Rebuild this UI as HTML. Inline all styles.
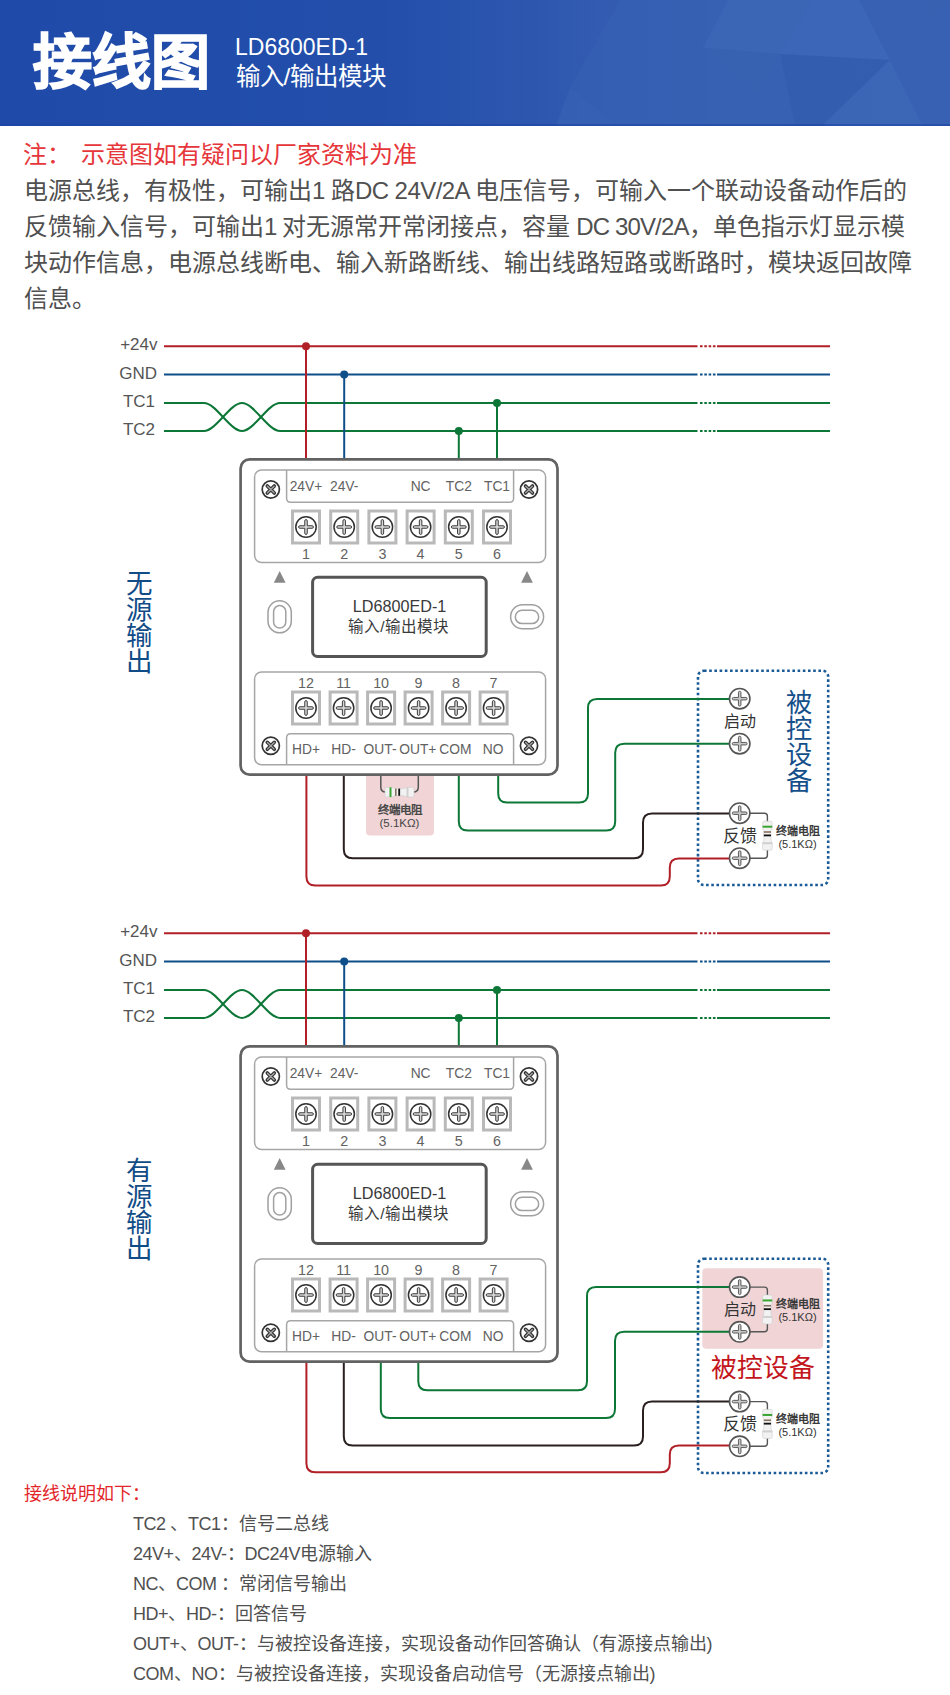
<!DOCTYPE html>
<html lang="zh-CN">
<head>
<meta charset="utf-8">
<style>
html,body{margin:0;padding:0;background:#fff;}
body{width:950px;height:1695px;position:relative;overflow:hidden;font-family:"Liberation Sans",sans-serif;color:#333;}
.abs{position:absolute;white-space:nowrap;}
#hdr{position:absolute;left:0;top:0;width:950px;height:126px;}
.t1{left:32.5px;top:23px;font-size:59px;font-weight:bold;color:#fff;line-height:80px;-webkit-text-stroke:1.6px #fff;}
.t2{left:235px;top:32px;font-size:23px;color:#fff;line-height:30px;}
.t3{left:235.5px;top:62px;font-size:24.5px;color:#fff;line-height:30px;}
.note{left:23px;top:139px;font-size:24px;color:#e6363a;line-height:32px;}
.p{left:24px;font-size:24px;color:#505050;line-height:32px;}
.l1{letter-spacing:-0.55px}.l2{letter-spacing:-0.85px}
.ln{letter-spacing:-0.5px}
.n{font-size:18px;color:#505050;line-height:24px;}
svg{position:absolute;left:0;top:0;}
</style>
</head>
<body>
<svg id="hdr" width="950" height="126" viewBox="0 0 950 126">
  <defs>
    <linearGradient id="hg" x1="0" y1="0" x2="1" y2="0">
      <stop offset="0" stop-color="#1f4aa9"/>
      <stop offset="0.4" stop-color="#234fab"/>
      <stop offset="0.6" stop-color="#3059b0"/>
      <stop offset="0.75" stop-color="#3a64b5"/>
      <stop offset="1" stop-color="#3c67b8"/>
    </linearGradient>
  </defs>
  <rect x="0" y="0" width="950" height="126" fill="url(#hg)"/>
  <polygon points="570,87 619,126 556,126" fill="#3862b5" opacity="0.7"/>
  <polygon points="570,87 620,0 728,0 703,47.5 760,97 795,126 619,126" fill="#3661b3" opacity="0.6"/>
  <polygon points="703,47.5 728,0 813,0 780,54 760,97" fill="#3c66b7" opacity="0.7"/>
  <polygon points="703,47.5 760,97 795,126 780,54" fill="#335dae" opacity="0.5"/>
  <polygon points="780,54 813,0 859,0 890,60" fill="#3d67b8" opacity="0.9"/>
  <polygon points="859,0 950,0 950,5 890,60" fill="#3761b1" opacity="0.9"/>
  <polygon points="780,54 890,60 822,126 795,126" fill="#335dae" opacity="0.9"/>
  <polygon points="890,60 923,126 822,126" fill="#3c66b6" opacity="0.9"/>
  <polygon points="890,60 950,5 950,126 923,126" fill="#3761b2" opacity="0.9"/>
  <rect x="0" y="124" width="950" height="2" fill="#1d45a5" opacity="0.6"/>
</svg>
<div class="abs t1">接线图</div>
<div class="abs t2">LD6800ED-1</div>
<div class="abs t3">输入/输出模块</div>

<div class="abs note">注：<span style="margin-left:10px">示意图如有疑问以厂家资料为准</span></div>
<div class="abs p" style="top:175px">电源总线，有极性，可输出<span class="l1">1 </span>路<span class="l1">DC 24V/2A </span>电压信号，可输入一个联动设备动作后的</div>
<div class="abs p" style="top:211px">反馈输入信号，可输出<span class="l2">1 </span>对无源常开常闭接点，容量<span class="l2"> DC 30V/2A</span>，单色指示灯显示模</div>
<div class="abs p" style="top:247px">块动作信息，电源总线断电、输入新路断线、输出线路短路或断路时，模块返回故障</div>
<div class="abs p" style="top:283px">信息。</div>

<div class="abs n" style="left:24px;top:1482px;color:#e3262a">接线说明如下：</div>
<div class="abs n" style="left:133px;top:1512px"><span class="ln">TC2 </span>、<span class="ln">TC1</span>：信号二总线</div>
<div class="abs n" style="left:133px;top:1542px"><span class="ln">24V+</span>、<span class="ln">24V-</span>：<span class="ln">DC24V</span>电源输入</div>
<div class="abs n" style="left:133px;top:1572px"><span class="ln">NC</span>、<span class="ln">COM </span>：常闭信号输出</div>
<div class="abs n" style="left:133px;top:1602px"><span class="ln">HD+</span>、<span class="ln">HD-</span>：回答信号</div>
<div class="abs n" style="left:133px;top:1632px"><span class="ln">OUT+</span>、<span class="ln">OUT-</span>：与被控设备连接，实现设备动作回答确认（有源接点输出)</div>
<div class="abs n" style="left:133px;top:1662px"><span class="ln">COM</span>、<span class="ln">NO</span>：与被控设备连接，实现设备启动信号（无源接点输出)</div>

<svg width="950" height="1695" viewBox="0 0 950 1695" style="position:absolute;left:0;top:0" font-family="Liberation Sans, sans-serif">
<defs>
 <g id="plus">
  <path d="M-1.25,-6.15 A1.25,1.25 0 0 1 1.25,-6.15 V-1.25 H6.15 A1.25,1.25 0 0 1 6.15,1.25 H1.25 V6.15 A1.25,1.25 0 0 1 -1.25,6.15 V1.25 H-6.15 A1.25,1.25 0 0 1 -6.15,-1.25 H-1.25 Z" fill="#d6d6d6" stroke="#333" stroke-width="0.95"/>
 </g>
 <g id="term">
  <rect x="-13.5" y="-16" width="27" height="32" fill="#fff" stroke="#b9b9b9" stroke-width="3"/>
  <circle r="10.2" fill="#fff" stroke="#333" stroke-width="1.5"/>
  <use href="#plus"/>
 </g>
 <g id="dplus">
  <path d="M-1.25,-6.15 A1.25,1.25 0 0 1 1.25,-6.15 V-1.25 H6.15 A1.25,1.25 0 0 1 6.15,1.25 H1.25 V6.15 A1.25,1.25 0 0 1 -1.25,6.15 V1.25 H-6.15 A1.25,1.25 0 0 1 -6.15,-1.25 H-1.25 Z" fill="#c8c8c8" stroke="#555" stroke-width="0.95"/>
 </g>
 <g id="dterm">
  <circle r="10.2" fill="#fff" stroke="#555" stroke-width="1.6"/>
  <use href="#dplus"/>
 </g>
 <g id="screw">
  <circle r="8.6" fill="#fff" stroke="#333" stroke-width="1.7"/>
  <path d="M-3.5,-3.5L3.5,3.5M3.5,-3.5L-3.5,3.5" stroke="#333" stroke-width="3.6" stroke-linecap="round" fill="none"/>
  <path d="M-3.3,-3.3L3.3,3.3M3.3,-3.3L-3.3,3.3" stroke="#a8a8a8" stroke-width="1.3" stroke-linecap="round" fill="none"/>
 </g>
 <g id="resH">
  <path d="M-13,-4.8 h5 q2,0 3,1.2 h10 q1,-1.2 3,-1.2 h5 q1.5,0 1.5,1.5 v6.6 q0,1.5 -1.5,1.5 h-5 q-2,0 -3,-1.2 h-10 q-1,1.2 -3,1.2 h-5 q-1.5,0 -1.5,-1.5 v-6.6 q0,-1.5 1.5,-1.5z" fill="#f2f2f2" stroke="#cfcfcf" stroke-width="0.6"/>
  <rect x="-10" y="-4.8" width="2" height="9.6" fill="#3aa332"/>
  <rect x="-4.5" y="-3.6" width="1.6" height="7.2" fill="#8a7262"/>
  <rect x="-1.2" y="-3.6" width="1.8" height="7.2" fill="#111"/>
  <rect x="7" y="-4.8" width="2" height="9.6" fill="#d0d0d0"/>
 </g>
 <g id="resV">
  <path d="M-4.8,-13 v5 q0,2 1.2,3 v10 q-1.2,1 -1.2,3 v5 q0,1.5 1.5,1.5 h6.6 q1.5,0 1.5,-1.5 v-5 q0,-2 -1.2,-3 v-10 q1.2,-1 1.2,-3 v-5 q0,-1.5 -1.5,-1.5 h-6.6 q-1.5,0 -1.5,1.5z" fill="#f2f2f2" stroke="#cfcfcf" stroke-width="0.6"/>
  <rect x="-4.8" y="-10" width="9.6" height="2" fill="#3aa332"/>
  <rect x="-3.6" y="-4.5" width="7.2" height="1.6" fill="#8a7262"/>
  <rect x="-3.6" y="-1.2" width="7.2" height="1.8" fill="#111"/>
  <rect x="-4.8" y="6.5" width="9.6" height="2" fill="#d0d0d0"/>
 </g>
</defs>
<text x="157.5" y="350.3" font-size="17" fill="#555" text-anchor="end" font-weight="normal" >+24v</text>
<text x="157" y="378.5" font-size="17" fill="#555" text-anchor="end" font-weight="normal" >GND</text>
<text x="155" y="407" font-size="17" fill="#555" text-anchor="end" font-weight="normal" >TC1</text>
<text x="155" y="435" font-size="17" fill="#555" text-anchor="end" font-weight="normal" >TC2</text>
<path d="M164,346.3H697.5M717,346.3H830" stroke="#b11f27" stroke-width="2" fill="none"/>
<path d="M700,346.3H715.5" stroke="#b11f27" stroke-width="2" stroke-dasharray="2.6 1.7" fill="none"/>
<path d="M164,374.5H697.5M717,374.5H830" stroke="#0e4f89" stroke-width="2" fill="none"/>
<path d="M700,374.5H715.5" stroke="#0e4f89" stroke-width="2" stroke-dasharray="2.6 1.7" fill="none"/>
<path d="M164,403H204C216,403 230,431 242,431C254,431 268,403 280,403H697.5M717,403H830" stroke="#0d7737" stroke-width="2" fill="none"/>
<path d="M164,431H204C216,431 230,403 242,403C254,403 268,431 280,431H697.5M717,431H830" stroke="#0d7737" stroke-width="2" fill="none"/>
<path d="M700,403H715.5" stroke="#0d7737" stroke-width="2" stroke-dasharray="2.6 1.7" fill="none"/>
<path d="M700,431H715.5" stroke="#0d7737" stroke-width="2" stroke-dasharray="2.6 1.7" fill="none"/>
<path d="M306,346.3V462" stroke="#b11f27" stroke-width="2"/>
<circle cx="306" cy="346.3" r="4" fill="#b11f27"/>
<path d="M344.2,374.5V462" stroke="#0e4f89" stroke-width="2"/>
<circle cx="344.2" cy="374.5" r="4" fill="#0e4f89"/>
<path d="M458.8,431V462" stroke="#0d7737" stroke-width="2"/>
<circle cx="458.8" cy="431" r="4" fill="#0d7737"/>
<path d="M497,403V462" stroke="#0d7737" stroke-width="2"/>
<circle cx="497" cy="403" r="4" fill="#0d7737"/>
<rect x="698" y="670.7" width="130.2" height="214.3" rx="6" fill="none" stroke="#1a5a96" stroke-width="2.6" stroke-dasharray="2.6 2.6"/>
<text x="798.5" y="712" font-size="26.3" fill="#15508a" text-anchor="middle" font-weight="normal" >被</text>
<text x="798.5" y="738" font-size="26.3" fill="#15508a" text-anchor="middle" font-weight="normal" >控</text>
<text x="798.5" y="764" font-size="26.3" fill="#15508a" text-anchor="middle" font-weight="normal" >设</text>
<text x="798.5" y="790" font-size="26.3" fill="#15508a" text-anchor="middle" font-weight="normal" >备</text>
<path d="M306.4,770 L306.4,876.6 Q306.4,885.6 315.4,885.6 L660.8,885.6 Q669.8,885.6 669.8,876.6 L669.8,867.5 Q669.8,858.5 678.8,858.5 L729,858.5" stroke="#b11f27" stroke-width="2" fill="none"/>
<path d="M343.8,770 L343.8,849.3 Q343.8,858.3 352.8,858.3 L634.0,858.3 Q643,858.3 643.0,849.3 L643.0,822.5 Q643,813.5 652.0,813.5 L729,813.5" stroke="#2b2020" stroke-width="2" fill="none"/>
<path d="M458.8,770 L458.8,821.5 Q458.8,830.5 467.8,830.5 L606.2,830.5 Q615.2,830.5 615.2,821.5 L615.2,752.7 Q615.2,743.7 624.2,743.7 L729,743.7" stroke="#0d7737" stroke-width="2" fill="none"/>
<path d="M498.2,770 L498.2,793.5 Q498.2,802.5 507.2,802.5 L579.0,802.5 Q588,802.5 588.0,793.5 L588.0,708.0 Q588,699 597.0,699.0 L729,699" stroke="#0d7737" stroke-width="2" fill="none"/>
<rect x="366" y="760" width="68" height="75.5" rx="4" fill="#f0d4d6"/>
<path d="M380.8,770 L380.8,787.0 Q380.8,792 385.8,792.0 L413.3,792.0 Q418.3,792 418.3,787.0 L418.3,770" stroke="#555" stroke-width="1.5" fill="none"/>
<use href="#resH" x="399.5" y="792.2"/>
<text x="399.5" y="814.3" font-size="11.5" fill="#484848" text-anchor="middle" font-weight="bold" >终端电阻</text>
<text x="399.5" y="826.8" font-size="11.5" fill="#444" text-anchor="middle" font-weight="normal" >(5.1KΩ)</text>
<rect x="240.6" y="459.4" width="316.9" height="315.3" rx="9" fill="#fff" stroke="#626262" stroke-width="2.7"/>
<rect x="254.6" y="470" width="291" height="92.5" rx="7" fill="none" stroke="#a6a6a6" stroke-width="1.5"/>
<path d="M286.6,470V498.3Q286.6,502.3 290.6,502.3H509.6Q513.6,502.3 513.6,498.3V470" fill="none" stroke="#a6a6a6" stroke-width="1.5"/>
<rect x="254.6" y="672" width="291" height="92.8" rx="7" fill="none" stroke="#a6a6a6" stroke-width="1.5"/>
<path d="M286.6,764.8V737.8Q286.6,733.8 290.6,733.8H509.6Q513.6,733.8 513.6,737.8V764.8" fill="none" stroke="#a6a6a6" stroke-width="1.5"/>
<use href="#screw" x="270.8" y="489.5"/>
<use href="#screw" x="270.8" y="745.8"/>
<use href="#screw" x="529" y="489.5"/>
<use href="#screw" x="529" y="745.8"/>
<use href="#term" x="306" y="527"/>
<use href="#term" x="306" y="708"/>
<text x="306" y="558.7" font-size="14.3" fill="#626262" text-anchor="middle" font-weight="normal" >1</text>
<text x="306" y="687.7" font-size="14.3" fill="#626262" text-anchor="middle" font-weight="normal" >12</text>
<text x="306" y="490.9" font-size="13.8" fill="#626262" text-anchor="middle" font-weight="normal" >24V+</text>
<text x="306" y="753.5" font-size="13.8" fill="#626262" text-anchor="middle" font-weight="normal" >HD+</text>
<use href="#term" x="344.2" y="527"/>
<use href="#term" x="343.6" y="708"/>
<text x="344.2" y="558.7" font-size="14.3" fill="#626262" text-anchor="middle" font-weight="normal" >2</text>
<text x="343.6" y="687.7" font-size="14.3" fill="#626262" text-anchor="middle" font-weight="normal" >11</text>
<text x="344.2" y="490.9" font-size="13.8" fill="#626262" text-anchor="middle" font-weight="normal" >24V-</text>
<text x="343.6" y="753.5" font-size="13.8" fill="#626262" text-anchor="middle" font-weight="normal" >HD-</text>
<use href="#term" x="382.4" y="527"/>
<use href="#term" x="381.1" y="708"/>
<text x="382.4" y="558.7" font-size="14.3" fill="#626262" text-anchor="middle" font-weight="normal" >3</text>
<text x="381.1" y="687.7" font-size="14.3" fill="#626262" text-anchor="middle" font-weight="normal" >10</text>
<text x="380" y="753.5" font-size="13.8" fill="#626262" text-anchor="middle" font-weight="normal" >OUT-</text>
<use href="#term" x="420.6" y="527"/>
<use href="#term" x="418.6" y="708"/>
<text x="420.6" y="558.7" font-size="14.3" fill="#626262" text-anchor="middle" font-weight="normal" >4</text>
<text x="418.6" y="687.7" font-size="14.3" fill="#626262" text-anchor="middle" font-weight="normal" >9</text>
<text x="420.6" y="490.9" font-size="13.8" fill="#626262" text-anchor="middle" font-weight="normal" >NC</text>
<text x="417.8" y="753.5" font-size="13.8" fill="#626262" text-anchor="middle" font-weight="normal" >OUT+</text>
<use href="#term" x="458.8" y="527"/>
<use href="#term" x="456.1" y="708"/>
<text x="458.8" y="558.7" font-size="14.3" fill="#626262" text-anchor="middle" font-weight="normal" >5</text>
<text x="456.1" y="687.7" font-size="14.3" fill="#626262" text-anchor="middle" font-weight="normal" >8</text>
<text x="458.8" y="490.9" font-size="13.8" fill="#626262" text-anchor="middle" font-weight="normal" >TC2</text>
<text x="455.3" y="753.5" font-size="13.8" fill="#626262" text-anchor="middle" font-weight="normal" >COM</text>
<use href="#term" x="497" y="527"/>
<use href="#term" x="493.6" y="708"/>
<text x="497" y="558.7" font-size="14.3" fill="#626262" text-anchor="middle" font-weight="normal" >6</text>
<text x="493.6" y="687.7" font-size="14.3" fill="#626262" text-anchor="middle" font-weight="normal" >7</text>
<text x="497" y="490.9" font-size="13.8" fill="#626262" text-anchor="middle" font-weight="normal" >TC1</text>
<text x="493.2" y="753.5" font-size="13.8" fill="#626262" text-anchor="middle" font-weight="normal" >NO</text>
<path d="M279.7,571L285.6,582.7H273.8Z" fill="#888"/>
<path d="M527,571L532.9,582.7H521.1Z" fill="#888"/>
<rect x="268" y="600.8" width="23.3" height="32" rx="11.6" fill="#fff" stroke="#a0a0a0" stroke-width="1.5"/>
<rect x="273.6" y="605.6" width="12.2" height="22.4" rx="6.1" fill="#fff" stroke="#a0a0a0" stroke-width="1.5"/>
<rect x="510.6" y="604.8" width="33" height="24" rx="12" fill="#fff" stroke="#a0a0a0" stroke-width="1.5"/>
<rect x="515.3" y="610.2" width="23.4" height="13.4" rx="6.7" fill="#fff" stroke="#a0a0a0" stroke-width="1.5"/>
<rect x="312.6" y="577.3" width="173.6" height="79.2" rx="5" fill="#fff" stroke="#555" stroke-width="3"/>
<text x="399.5" y="612.2" font-size="16.2" fill="#3a3a3a" text-anchor="middle" font-weight="normal" >LD6800ED-1</text>
<text x="398.5" y="632" font-size="15.5" fill="#3a3a3a" text-anchor="middle" font-weight="normal" >输入/输出模块</text>
<text x="138.9" y="593.4" font-size="26.5" fill="#114c87" text-anchor="middle" font-weight="normal" >无</text>
<text x="138.9" y="619.38" font-size="26.5" fill="#114c87" text-anchor="middle" font-weight="normal" >源</text>
<text x="138.9" y="645.36" font-size="26.5" fill="#114c87" text-anchor="middle" font-weight="normal" >输</text>
<text x="138.9" y="671.3399999999999" font-size="26.5" fill="#114c87" text-anchor="middle" font-weight="normal" >出</text>
<use href="#dterm" x="739.7" y="698.7"/>
<use href="#dterm" x="739.7" y="743.7"/>
<use href="#dterm" x="739.7" y="813.2"/>
<use href="#dterm" x="739.7" y="858.2"/>
<text x="739.7" y="727.0" font-size="16" fill="#333" text-anchor="middle" font-weight="normal" >启动</text>
<text x="739.7" y="841.5" font-size="17" fill="#333" text-anchor="middle" font-weight="normal" >反馈</text>
<path d="M750,813.2 L764.4,813.2 Q767.4,813.2 767.4,816.2 L767.4,855.2 Q767.4,858.2 764.4,858.2 L750,858.2" stroke="#555" stroke-width="1.4" fill="none"/>
<use href="#resV" x="767.4" y="835.7"/>
<text x="798" y="834.7" font-size="11" fill="#3a3a3a" text-anchor="middle" font-weight="bold" >终端电阻</text>
<text x="797.5" y="847.7" font-size="11" fill="#333" text-anchor="middle" font-weight="normal" >(5.1KΩ)</text>
<text x="157.5" y="937.3" font-size="17" fill="#555" text-anchor="end" font-weight="normal" >+24v</text>
<text x="157" y="965.5" font-size="17" fill="#555" text-anchor="end" font-weight="normal" >GND</text>
<text x="155" y="994" font-size="17" fill="#555" text-anchor="end" font-weight="normal" >TC1</text>
<text x="155" y="1022" font-size="17" fill="#555" text-anchor="end" font-weight="normal" >TC2</text>
<path d="M164,933.3H697.5M717,933.3H830" stroke="#b11f27" stroke-width="2" fill="none"/>
<path d="M700,933.3H715.5" stroke="#b11f27" stroke-width="2" stroke-dasharray="2.6 1.7" fill="none"/>
<path d="M164,961.5H697.5M717,961.5H830" stroke="#0e4f89" stroke-width="2" fill="none"/>
<path d="M700,961.5H715.5" stroke="#0e4f89" stroke-width="2" stroke-dasharray="2.6 1.7" fill="none"/>
<path d="M164,990H204C216,990 230,1018 242,1018C254,1018 268,990 280,990H697.5M717,990H830" stroke="#0d7737" stroke-width="2" fill="none"/>
<path d="M164,1018H204C216,1018 230,990 242,990C254,990 268,1018 280,1018H697.5M717,1018H830" stroke="#0d7737" stroke-width="2" fill="none"/>
<path d="M700,990H715.5" stroke="#0d7737" stroke-width="2" stroke-dasharray="2.6 1.7" fill="none"/>
<path d="M700,1018H715.5" stroke="#0d7737" stroke-width="2" stroke-dasharray="2.6 1.7" fill="none"/>
<path d="M306,933.3V1049" stroke="#b11f27" stroke-width="2"/>
<circle cx="306" cy="933.3" r="4" fill="#b11f27"/>
<path d="M344.2,961.5V1049" stroke="#0e4f89" stroke-width="2"/>
<circle cx="344.2" cy="961.5" r="4" fill="#0e4f89"/>
<path d="M458.8,1018V1049" stroke="#0d7737" stroke-width="2"/>
<circle cx="458.8" cy="1018" r="4" fill="#0d7737"/>
<path d="M497,990V1049" stroke="#0d7737" stroke-width="2"/>
<circle cx="497" cy="990" r="4" fill="#0d7737"/>
<rect x="698" y="1258.7" width="130.2" height="214.3" rx="6" fill="none" stroke="#1a5a96" stroke-width="2.6" stroke-dasharray="2.6 2.6"/>
<rect x="702.3" y="1268.2" width="120.8" height="80.5" rx="4" fill="#f0d4d6"/>
<text x="763" y="1377" font-size="25.8" fill="#c3161c" text-anchor="middle" font-weight="normal" >被控设备</text>
<path d="M306.4,1357 L306.4,1463.3 Q306.4,1472.3 315.4,1472.3 L660.8,1472.3 Q669.8,1472.3 669.8,1463.3 L669.8,1454.5 Q669.8,1445.5 678.8,1445.5 L729,1445.5" stroke="#b11f27" stroke-width="2" fill="none"/>
<path d="M343.8,1357 L343.8,1436.5 Q343.8,1445.5 352.8,1445.5 L634.0,1445.5 Q643,1445.5 643.0,1436.5 L643.0,1410.6 Q643,1401.6 652.0,1401.6 L729,1401.6" stroke="#2b2020" stroke-width="2" fill="none"/>
<path d="M380.8,1357 L380.8,1409.0 Q380.8,1418 389.8,1418.0 L606.0,1418.0 Q615,1418 615.0,1409.0 L615.0,1340.8 Q615,1331.8 624.0,1331.8 L729,1331.8" stroke="#0d7737" stroke-width="2" fill="none"/>
<path d="M418.3,1357 L418.3,1381.2 Q418.3,1390.2 427.3,1390.2 L578.0,1390.2 Q587,1390.2 587.0,1381.2 L587.0,1296.1 Q587,1287.1 596.0,1287.1 L729,1287.1" stroke="#0d7737" stroke-width="2" fill="none"/>
<rect x="240.6" y="1046.4" width="316.9" height="315.3" rx="9" fill="#fff" stroke="#626262" stroke-width="2.7"/>
<rect x="254.6" y="1057" width="291" height="92.5" rx="7" fill="none" stroke="#a6a6a6" stroke-width="1.5"/>
<path d="M286.6,1057V1085.3Q286.6,1089.3 290.6,1089.3H509.6Q513.6,1089.3 513.6,1085.3V1057" fill="none" stroke="#a6a6a6" stroke-width="1.5"/>
<rect x="254.6" y="1259" width="291" height="92.8" rx="7" fill="none" stroke="#a6a6a6" stroke-width="1.5"/>
<path d="M286.6,1351.8V1324.8Q286.6,1320.8 290.6,1320.8H509.6Q513.6,1320.8 513.6,1324.8V1351.8" fill="none" stroke="#a6a6a6" stroke-width="1.5"/>
<use href="#screw" x="270.8" y="1076.5"/>
<use href="#screw" x="270.8" y="1332.8"/>
<use href="#screw" x="529" y="1076.5"/>
<use href="#screw" x="529" y="1332.8"/>
<use href="#term" x="306" y="1114"/>
<use href="#term" x="306" y="1295"/>
<text x="306" y="1145.7" font-size="14.3" fill="#626262" text-anchor="middle" font-weight="normal" >1</text>
<text x="306" y="1274.7" font-size="14.3" fill="#626262" text-anchor="middle" font-weight="normal" >12</text>
<text x="306" y="1077.9" font-size="13.8" fill="#626262" text-anchor="middle" font-weight="normal" >24V+</text>
<text x="306" y="1340.5" font-size="13.8" fill="#626262" text-anchor="middle" font-weight="normal" >HD+</text>
<use href="#term" x="344.2" y="1114"/>
<use href="#term" x="343.6" y="1295"/>
<text x="344.2" y="1145.7" font-size="14.3" fill="#626262" text-anchor="middle" font-weight="normal" >2</text>
<text x="343.6" y="1274.7" font-size="14.3" fill="#626262" text-anchor="middle" font-weight="normal" >11</text>
<text x="344.2" y="1077.9" font-size="13.8" fill="#626262" text-anchor="middle" font-weight="normal" >24V-</text>
<text x="343.6" y="1340.5" font-size="13.8" fill="#626262" text-anchor="middle" font-weight="normal" >HD-</text>
<use href="#term" x="382.4" y="1114"/>
<use href="#term" x="381.1" y="1295"/>
<text x="382.4" y="1145.7" font-size="14.3" fill="#626262" text-anchor="middle" font-weight="normal" >3</text>
<text x="381.1" y="1274.7" font-size="14.3" fill="#626262" text-anchor="middle" font-weight="normal" >10</text>
<text x="380" y="1340.5" font-size="13.8" fill="#626262" text-anchor="middle" font-weight="normal" >OUT-</text>
<use href="#term" x="420.6" y="1114"/>
<use href="#term" x="418.6" y="1295"/>
<text x="420.6" y="1145.7" font-size="14.3" fill="#626262" text-anchor="middle" font-weight="normal" >4</text>
<text x="418.6" y="1274.7" font-size="14.3" fill="#626262" text-anchor="middle" font-weight="normal" >9</text>
<text x="420.6" y="1077.9" font-size="13.8" fill="#626262" text-anchor="middle" font-weight="normal" >NC</text>
<text x="417.8" y="1340.5" font-size="13.8" fill="#626262" text-anchor="middle" font-weight="normal" >OUT+</text>
<use href="#term" x="458.8" y="1114"/>
<use href="#term" x="456.1" y="1295"/>
<text x="458.8" y="1145.7" font-size="14.3" fill="#626262" text-anchor="middle" font-weight="normal" >5</text>
<text x="456.1" y="1274.7" font-size="14.3" fill="#626262" text-anchor="middle" font-weight="normal" >8</text>
<text x="458.8" y="1077.9" font-size="13.8" fill="#626262" text-anchor="middle" font-weight="normal" >TC2</text>
<text x="455.3" y="1340.5" font-size="13.8" fill="#626262" text-anchor="middle" font-weight="normal" >COM</text>
<use href="#term" x="497" y="1114"/>
<use href="#term" x="493.6" y="1295"/>
<text x="497" y="1145.7" font-size="14.3" fill="#626262" text-anchor="middle" font-weight="normal" >6</text>
<text x="493.6" y="1274.7" font-size="14.3" fill="#626262" text-anchor="middle" font-weight="normal" >7</text>
<text x="497" y="1077.9" font-size="13.8" fill="#626262" text-anchor="middle" font-weight="normal" >TC1</text>
<text x="493.2" y="1340.5" font-size="13.8" fill="#626262" text-anchor="middle" font-weight="normal" >NO</text>
<path d="M279.7,1158L285.6,1169.7H273.8Z" fill="#888"/>
<path d="M527,1158L532.9,1169.7H521.1Z" fill="#888"/>
<rect x="268" y="1187.8" width="23.3" height="32" rx="11.6" fill="#fff" stroke="#a0a0a0" stroke-width="1.5"/>
<rect x="273.6" y="1192.6" width="12.2" height="22.4" rx="6.1" fill="#fff" stroke="#a0a0a0" stroke-width="1.5"/>
<rect x="510.6" y="1191.8" width="33" height="24" rx="12" fill="#fff" stroke="#a0a0a0" stroke-width="1.5"/>
<rect x="515.3" y="1197.2" width="23.4" height="13.4" rx="6.7" fill="#fff" stroke="#a0a0a0" stroke-width="1.5"/>
<rect x="312.6" y="1164.3" width="173.6" height="79.2" rx="5" fill="#fff" stroke="#555" stroke-width="3"/>
<text x="399.5" y="1199.2" font-size="16.2" fill="#3a3a3a" text-anchor="middle" font-weight="normal" >LD6800ED-1</text>
<text x="398.5" y="1219" font-size="15.5" fill="#3a3a3a" text-anchor="middle" font-weight="normal" >输入/输出模块</text>
<text x="138.9" y="1180.4" font-size="26.5" fill="#114c87" text-anchor="middle" font-weight="normal" >有</text>
<text x="138.9" y="1206.38" font-size="26.5" fill="#114c87" text-anchor="middle" font-weight="normal" >源</text>
<text x="138.9" y="1232.3600000000001" font-size="26.5" fill="#114c87" text-anchor="middle" font-weight="normal" >输</text>
<text x="138.9" y="1258.34" font-size="26.5" fill="#114c87" text-anchor="middle" font-weight="normal" >出</text>
<use href="#dterm" x="739.7" y="1287.1"/>
<use href="#dterm" x="739.7" y="1331.8"/>
<use href="#dterm" x="739.7" y="1401.6"/>
<use href="#dterm" x="739.7" y="1446.3"/>
<text x="739.7" y="1315.25" font-size="16" fill="#333" text-anchor="middle" font-weight="normal" >启动</text>
<text x="739.7" y="1429.75" font-size="17" fill="#333" text-anchor="middle" font-weight="normal" >反馈</text>
<path d="M750,1401.6 L764.4,1401.6 Q767.4,1401.6 767.4,1404.6 L767.4,1443.3 Q767.4,1446.3 764.4,1446.3 L750,1446.3" stroke="#555" stroke-width="1.4" fill="none"/>
<use href="#resV" x="767.4" y="1423.95"/>
<text x="798" y="1422.95" font-size="11" fill="#3a3a3a" text-anchor="middle" font-weight="bold" >终端电阻</text>
<text x="797.5" y="1435.95" font-size="11" fill="#333" text-anchor="middle" font-weight="normal" >(5.1KΩ)</text>
<path d="M750,1287.1 L764.4,1287.1 Q767.4,1287.1 767.4,1290.1 L767.4,1328.8 Q767.4,1331.8 764.4,1331.8 L750,1331.8" stroke="#555" stroke-width="1.4" fill="none"/>
<use href="#resV" x="767.4" y="1309.45"/>
<text x="798" y="1308.45" font-size="11" fill="#3a3a3a" text-anchor="middle" font-weight="bold" >终端电阻</text>
<text x="797.5" y="1321.45" font-size="11" fill="#333" text-anchor="middle" font-weight="normal" >(5.1KΩ)</text>
</svg>
</body>
</html>
